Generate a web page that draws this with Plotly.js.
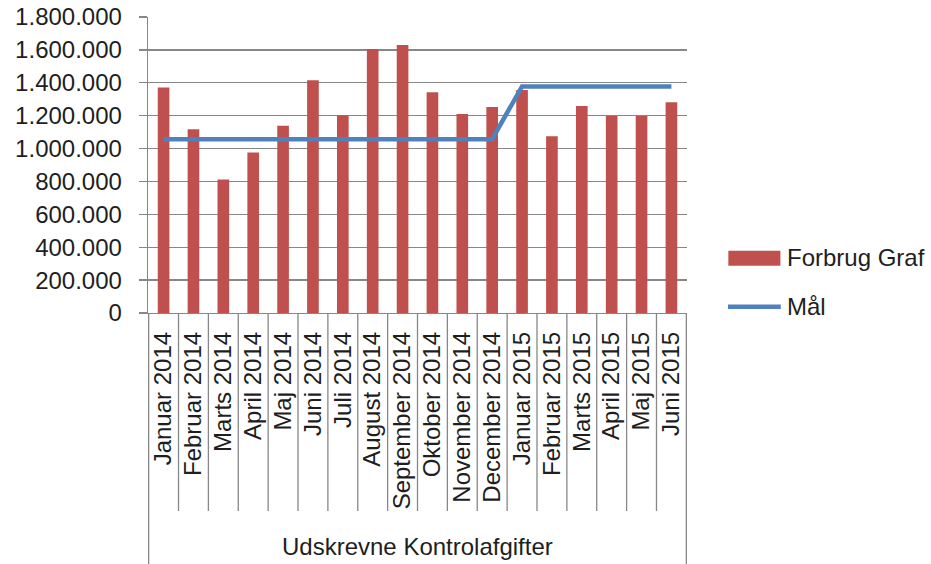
<!DOCTYPE html>
<html>
<head>
<meta charset="utf-8">
<script src="https://cdn.plot.ly/plotly-3.0.1.min.js"></script>
<style>html,body{margin:0;padding:0;background:#fff;}#chart{width:931px;height:564px;}</style>
</head>
<body>
<div id="chart"></div>
<script>
const categories = ["Januar 2014","Februar 2014","Marts 2014","April 2014","Maj 2014","Juni 2014","Juli 2014","August 2014","September 2014","Oktober 2014","November 2014","December 2014","Januar 2015","Februar 2015","Marts 2015","April 2015","Maj 2015","Juni 2015"];
const forbrug = [1372000,1117000,812000,976000,1139000,1416000,1202000,1606000,1630000,1343000,1210000,1253000,1356000,1075000,1259000,1198000,1198000,1281000];
const maal = [1057000,1057000,1057000,1057000,1057000,1057000,1057000,1057000,1057000,1057000,1057000,1057000,1378000,1378000,1378000,1378000,1378000,1378000];
const seriesNames = ["Forbrug Graf","Mål"];
const groupLabel = "Udskrevne Kontrolafgifter";
const yTicks = [0,200000,400000,600000,800000,1000000,1200000,1400000,1600000,1800000];

const FONT = "Liberation Sans, Arial, sans-serif";
const TXT = "#1e1e1e";
const GRID = "#878787";
const RED = "#C0504D";
const BLUE = "#4F81BD";

const traces = [
  {type:"bar", name:seriesNames[0], x:categories, y:forbrug, marker:{color:RED}, showlegend:false},
  {type:"scatter", mode:"lines", name:seriesNames[1], x:categories, y:maal, line:{color:BLUE, width:4.5}, showlegend:false}
];

// category divider lines (axis decoration)
const shapes = [];
for (let i = 0; i <= categories.length; i++) {
  const outer = (i === 0 || i === categories.length);
  shapes.push({type:"line", xref:"x", yref:"paper", x0:i-0.5, x1:i-0.5, y0:0, y1: outer ? -0.86 : -0.669,
    line:{color:GRID, width:1.3}, layer:"above"});
}
// legend swatches
shapes.push({type:"rect", xref:"paper", yref:"paper", x0:1.0767, x1:1.1733, y0:0.1595, y1:0.210,
  fillcolor:RED, line:{width:0}});
shapes.push({type:"line", xref:"paper", yref:"paper", x0:1.076, x1:1.174, y0:0.0212, y1:0.0212,
  line:{color:BLUE, width:4.5}});

const layout = {
  width:931, height:564,
  margin:{l:148.3, r:244.3, t:16.7, b:250.7, pad:0},
  paper_bgcolor:"#fff", plot_bgcolor:"#fff",
  font:{family:FONT, size:24, color:TXT},
  separators:",.",
  bargap:0.61,
  showlegend:false,
  xaxis:{type:"category", tickangle:-90, showgrid:false, showline:true, linecolor:GRID, linewidth:1.3,
    ticks:"", ticklabelstandoff:8, tickfont:{family:FONT, size:24, color:TXT}, fixedrange:true},
  yaxis:{range:[0,1800000], tickvals:yTicks, tickformat:",d", showgrid:true, gridcolor:GRID, gridwidth:1.3,
    showline:true, linecolor:GRID, linewidth:1.3, ticks:"outside", ticklen:8, tickcolor:GRID, tickwidth:1.3,
    ticklabelstandoff:12, zeroline:false, tickfont:{family:FONT, size:24, color:TXT}, fixedrange:true},
  shapes:shapes,
  annotations:[
    {text:groupLabel, xref:"paper", yref:"paper", x:0.5, y:-0.788, xanchor:"center", yanchor:"middle",
      showarrow:false, font:{family:FONT, size:24, color:TXT}},
    {text:seriesNames[0], xref:"paper", yref:"paper", x:1.1826, y:0.1864, xanchor:"left", yanchor:"middle",
      showarrow:false, font:{family:FONT, size:24, color:TXT}},
    {text:seriesNames[1], xref:"paper", yref:"paper", x:1.1826, y:0.0212, xanchor:"left", yanchor:"middle",
      showarrow:false, font:{family:FONT, size:24, color:TXT}}
  ]
};

Plotly.newPlot("chart", traces, layout, {displayModeBar:false, staticPlot:true});
</script>
</body>
</html>
